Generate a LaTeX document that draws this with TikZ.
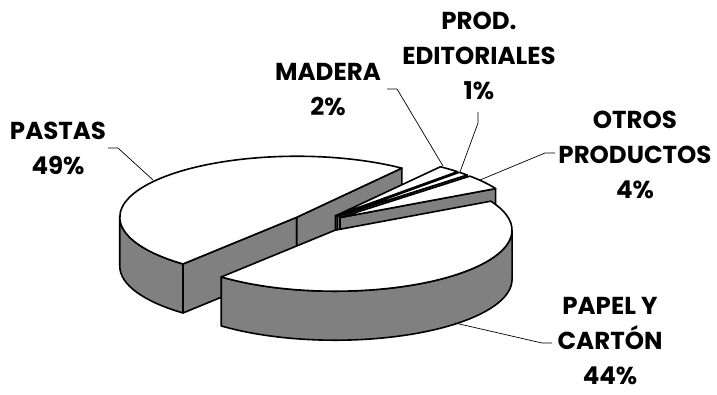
\documentclass[tikz,border=0pt]{standalone}
\usepackage{fontspec}
\setmainfont{Poppins}
\usetikzlibrary{calc}
\definecolor{sidegray}{HTML}{808080}
\begin{document}
\begin{tikzpicture}[x=1pt,y=1pt,
  ell/.style={x radius=177pt,y radius=61pt},
  sideface/.style={fill=sidegray,draw=black,line width=1.6pt,line join=round},
  topface/.style={fill=white,draw=black,line width=1.6pt,line join=round},
  leader/.style={draw=black,line width=0.7pt},
  lbl/.style={font=\bfseries\fontsize{24.5}{35}\selectfont,align=center,text=black,inner sep=0pt}]
\useasboundingbox (0,0) rectangle (717,394);
\def\dep{49pt}
\def\ex{27}
\def\k{0.3446}
\coordinate (C0) at (318,171);
\coordinate (P) at ($(C0)+({\ex*cos(141.8)},{\ex*\k*sin(141.8)})$);
\coordinate (M) at ($(C0)+({\ex*cos(50)},{\ex*\k*sin(50)})$);
\coordinate (D) at ($(C0)+({\ex*cos(44.6)},{\ex*\k*sin(44.6)})$);
\coordinate (O) at ($(C0)+({\ex*cos(35.6)},{\ex*\k*sin(35.6)})$);
\coordinate (Q) at ($(C0)+({\ex*cos(-50.8)},{\ex*\k*sin(-50.8)})$);
% PASTAS
\draw[sideface] ($(P)+(180:177pt and 61pt)$) arc[ell,start angle=180,end angle=230] -- ++(0,-\dep) arc[ell,start angle=230,end angle=180] -- cycle;
\draw[sideface] (P) -- ($(P)+(230:177pt and 61pt)$) -- ++(0,-\dep) -- ($(P)+(0,-\dep)$) -- cycle;
\draw[sideface] (P) -- ($(P)+(53.6:177pt and 61pt)$) -- ++(0,-\dep) -- ($(P)+(0,-\dep)$) -- cycle;
\draw[topface] (P) -- ($(P)+(53.6:177pt and 61pt)$) arc[ell,start angle=53.6,end angle=230] -- cycle;
% MADERA
\draw[sideface] (M) -- ($(M)+(46.4:177pt and 61pt)$) -- ++(0,-\dep) -- ($(M)+(0,-\dep)$) -- cycle;
\draw[topface] (M) -- ($(M)+(46.4:177pt and 61pt)$) arc[ell,start angle=46.4,end angle=53.6] -- cycle;
% PROD. EDITORIALES
\draw[sideface] (D) -- ($(D)+(42.8:177pt and 61pt)$) -- ++(0,-\dep) -- ($(D)+(0,-\dep)$) -- cycle;
\draw[topface] (D) -- ($(D)+(42.8:177pt and 61pt)$) arc[ell,start angle=42.8,end angle=46.4] -- cycle;
% OTROS PRODUCTOS
\draw[sideface] (O) -- ($(O)+(28.4:177pt and 61pt)$) -- ++(0,-\dep) -- ($(O)+(0,-\dep)$) -- cycle;
\draw[topface] (O) -- ($(O)+(28.4:177pt and 61pt)$) arc[ell,start angle=28.4,end angle=42.8] -- cycle;
% PAPEL Y CARTON
\draw[sideface] ($(Q)+(-130:177pt and 61pt)$) arc[ell,start angle=-130,end angle=0] -- ++(0,-\dep) arc[ell,start angle=0,end angle=-130] -- cycle;
\draw[topface] (Q) -- ($(Q)+(-130:177pt and 61pt)$) arc[ell,start angle=-130,end angle=28.4] -- cycle;
% labels
\node[lbl] (pastas) at (58,246) {PASTAS\\49\%};
\node[lbl] (madera) at (328,304) {MADERA\\2\%};
\node[lbl] (prod) at (479,338.5) {PROD.\\EDITORIALES\\1\%};
\node[lbl] (otros) at (635,239) {OTROS\\PRODUCTOS\\4\%};
\node[lbl] (papel) at (610,53) {PAPEL Y\\CARTÓN\\44\%};
% leader coordinates
\coordinate (pastasS) at (108,246); \coordinate (pastasK) at (118,246); \coordinate (pastasE) at (153,214);
\coordinate (maderaS) at (387,305); \coordinate (maderaK) at (397,305); \coordinate (maderaE) at (443,228);
\coordinate (prodS) at (478,282); \coordinate (prodK) at (478,271); \coordinate (prodE) at (460,222);
\coordinate (otrosS) at (555,241); \coordinate (otrosK) at (545,241); \coordinate (otrosE) at (480,214);
\coordinate (papelS) at (552,51); \coordinate (papelK) at (542,51); \coordinate (papelE) at (455,71);
\draw[leader] (pastasS) -- (pastasK) -- (pastasE);
\draw[leader] (maderaS) -- (maderaK) -- (maderaE);
\draw[leader] (prodS) -- (prodK) -- (prodE);
\draw[leader] (otrosS) -- (otrosK) -- (otrosE);
\draw[leader] (papelS) -- (papelK) -- (papelE);
\end{tikzpicture}
\end{document}
